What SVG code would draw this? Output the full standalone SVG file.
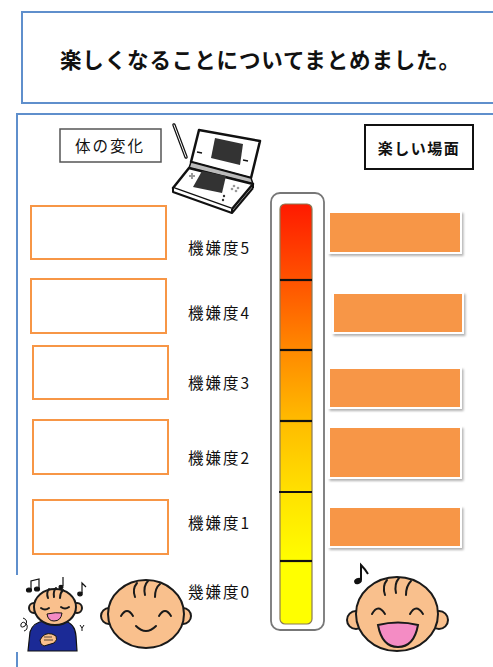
<svg xmlns="http://www.w3.org/2000/svg" width="493" height="667" viewBox="0 0 493 667">
  <defs>
    <style>
      .frame { fill: #ffffff; stroke: #5f8fcc; stroke-width: 2; }
      .jp { font-family: "Noto Sans CJK JP", "Noto Sans", sans-serif; fill: #111; }
      .lvl { font-size: 15.5px; }
      .note-box { fill: #ffffff; stroke: #f79646; stroke-width: 2; }
      .scene { fill: #f79646; stroke: #ffffff; stroke-width: 2; filter: url(#shadow); }
      .skin { fill: #f9c08d; stroke: #1a1a1a; stroke-width: 2; }
      .line { fill: none; stroke: #1a1a1a; stroke-width: 2; stroke-linecap: round; }
      .tick { stroke: #111; stroke-width: 2.2; }
    </style>
    <linearGradient id="heat" gradientUnits="userSpaceOnUse" x1="0" y1="204" x2="0" y2="624">
      <stop offset="0" stop-color="#ff1a00"/>
      <stop offset="0.18" stop-color="#ff5200"/>
      <stop offset="0.35" stop-color="#ff8a00"/>
      <stop offset="0.52" stop-color="#ffbc00"/>
      <stop offset="0.7" stop-color="#ffe400"/>
      <stop offset="0.86" stop-color="#ffff00"/>
      <stop offset="1" stop-color="#ffff00"/>
    </linearGradient>
    <filter id="shadow" x="-10%" y="-20%" width="125%" height="150%">
      <feDropShadow dx="1.5" dy="2" stdDeviation="1.2" flood-color="#000" flood-opacity="0.3"/>
    </filter>
  </defs>

  <rect width="493" height="667" fill="#ffffff"/>

  <!-- heading -->
  <g id="title">
    <rect class="frame" x="22" y="12" width="490" height="91"/>
    <text class="jp" x="260" y="68" font-size="21.5" font-weight="700" text-anchor="middle" textLength="400" lengthAdjust="spacing">楽しくなることについてまとめました。</text>
  </g>

  <!-- main sheet -->
  <g id="sheet">
    <rect class="frame" x="17" y="114" width="500" height="600"/>
  </g>

  <g id="label-body">
    <rect x="60" y="129" width="101" height="33" fill="#fff" stroke="#555" stroke-width="1.5"/>
    <text class="jp" x="110" y="152" font-size="15.5" text-anchor="middle" letter-spacing="2">体の変化</text>
  </g>

  <g id="label-scene">
    <rect x="365" y="125" width="108" height="44" fill="#fff" stroke="#111" stroke-width="2"/>
    <text class="jp" x="419" y="154" font-size="15" font-weight="700" text-anchor="middle" letter-spacing="1.5">楽しい場面</text>
  </g>

  <!-- game console -->
  <g id="console" stroke="#111" stroke-linejoin="round">
    <line x1="174" y1="125" x2="186" y2="157" stroke-width="3.5" stroke-linecap="round"/>
    <line x1="174" y1="125" x2="186" y2="157" stroke="#fff" stroke-width="1" stroke-linecap="round"/>
    <polygon points="199,130 260,141 251,178 191,162" fill="#fff" stroke-width="2.5"/>
    <polygon points="215,138 243,144 240,165 211,158" fill="#333" stroke="none"/>
    <line x1="197" y1="152" x2="202" y2="153" stroke-width="1.5"/>
    <line x1="243" y1="160" x2="248" y2="161" stroke-width="1.5"/>
    <polygon points="191,162 251,178 253,184 189,168" fill="#bbb" stroke-width="1.5"/>
    <polygon points="189,168 253,184 232,209 173,188" fill="#fff" stroke-width="2.5"/>
    <polyline points="173,188 173,192 232,213 232,209" fill="#fff" stroke-width="2"/>
    <line x1="232" y1="213" x2="253" y2="188" stroke-width="2"/>
    <line x1="253" y1="184" x2="253" y2="188" stroke-width="2"/>
    <polygon points="202,171 226,176 222,193 193,187" fill="#333" stroke="none"/>
    <path d="M189,176 h6 M192,173 v6" stroke="#999" stroke-width="2"/>
    <g fill="#999" stroke="none">
      <circle cx="234" cy="186" r="1.3"/>
      <circle cx="238" cy="188" r="1.3"/>
      <circle cx="236" cy="191" r="1.3"/>
      <circle cx="232" cy="189" r="1.3"/>
    </g>
    <circle cx="224" cy="196" r="1.2" fill="#333" stroke="none"/>
    <circle cx="223" cy="200" r="1.2" fill="#333" stroke="none"/>
  </g>

  <!-- body change notes (left column) -->
  <g id="body-notes">
    <rect class="note-box" x="31" y="206" width="135" height="53"/>
    <rect class="note-box" x="31" y="279" width="135" height="54"/>
    <rect class="note-box" x="33" y="346" width="135" height="53"/>
    <rect class="note-box" x="33" y="420" width="135" height="54"/>
    <rect class="note-box" x="33" y="500" width="135" height="54"/>
  </g>

  <!-- mood level labels -->
  <g id="levels" class="jp lvl">
    <text x="188" y="254" textLength="61" lengthAdjust="spacing">機嫌度5</text>
    <text x="188" y="319" textLength="61" lengthAdjust="spacing">機嫌度4</text>
    <text x="188" y="389" textLength="61" lengthAdjust="spacing">機嫌度3</text>
    <text x="188" y="464" textLength="61" lengthAdjust="spacing">機嫌度2</text>
    <text x="188" y="529" textLength="61" lengthAdjust="spacing">機嫌度1</text>
    <text x="188" y="598" textLength="61" lengthAdjust="spacing">幾嫌度0</text>
  </g>

  <!-- mood thermometer -->
  <g id="thermometer">
    <rect x="271" y="193" width="53" height="437" rx="9" fill="#fff" stroke="#777" stroke-width="1.8"/>
    <rect x="280" y="204" width="32" height="420" rx="5" fill="url(#heat)" stroke="#8a7a55" stroke-width="1.2"/>
    <line class="tick" x1="280" y1="280" x2="312" y2="280"/>
    <line class="tick" x1="280" y1="350" x2="312" y2="350"/>
    <line class="tick" x1="280" y1="421" x2="312" y2="421"/>
    <line class="tick" x1="279" y1="492" x2="312" y2="492"/>
    <line class="tick" x1="280" y1="561" x2="312" y2="561"/>
  </g>

  <!-- fun scenes (right column) -->
  <g id="scenes">
    <rect class="scene" x="329" y="212" width="132" height="41"/>
    <rect class="scene" x="333" y="293" width="130" height="40"/>
    <rect class="scene" x="329" y="368" width="132" height="40"/>
    <rect class="scene" x="329" y="427" width="132" height="51"/>
    <rect class="scene" x="329" y="507" width="132" height="40"/>
  </g>

  <!-- singing child -->
  <g id="singer">
    <rect x="10" y="575" width="76" height="77" fill="#fff"/>
    <path d="M28,651 L30,632 Q33,622 45,621 L64,621 Q75,623 76,636 L77,651 Z" fill="#1b2a96" stroke="#111" stroke-width="1.2"/>
    <path d="M40,640 Q44,632 52,634 L56,636 Q58,640 54,643 L44,646 Q40,645 40,640 Z" fill="#f9c08d" stroke="#111" stroke-width="1"/>
    <path d="M44,637 l8,0 M44,640 l9,0" stroke="#111" stroke-width="0.7"/>
    <circle cx="34" cy="608" r="5" class="skin" stroke-width="1.4"/>
    <circle cx="77" cy="608" r="5" class="skin" stroke-width="1.4"/>
    <ellipse cx="55" cy="607" rx="21" ry="18" class="skin" stroke-width="1.5"/>
    <path d="M48,598 q-2,-5 1,-9 M54,597 q-1,-6 2,-9 M60,598 q0,-5 3,-8" class="line" stroke-width="1.2"/>
    <path d="M41,608 q4,3 8,0 M61,607 q4,3 8,0" class="line" stroke-width="1.2"/>
    <path d="M47,614 q9,-2 15,-1 q-1,8 -8,8 q-6,0 -7,-7 Z" fill="#f38ac4" stroke="#111" stroke-width="1"/>
    <g fill="#111" stroke="#111" stroke-width="1.2">
      <ellipse cx="29" cy="590" rx="2.5" ry="2"/>
      <ellipse cx="37" cy="589" rx="2.5" ry="2"/>
      <path d="M31,590 V581 L39,579 V589" fill="none"/>
      <ellipse cx="61" cy="587" rx="2" ry="1.6"/>
      <path d="M63,586 V577" fill="none"/>
      <ellipse cx="80" cy="594" rx="2.2" ry="1.8"/>
      <path d="M82,593 V583 q2,2 4,4" fill="none"/>
      <path d="M23,618 q6,2 2,8 q-5,3 -4,-2 q2,-4 6,1 q1,5 -3,6" fill="none" stroke-width="1"/>
      <path d="M80,625 l2,3 l2,-3 M82,628 v3" fill="none" stroke-width="1"/>
    </g>
  </g>

  <!-- calm smiling face -->
  <g id="face-calm">
    <circle cx="109" cy="616" r="8" class="skin"/>
    <circle cx="183" cy="616" r="8" class="skin"/>
    <ellipse cx="146" cy="614" rx="38" ry="34" class="skin"/>
    <path d="M135,597 q-3,-8 2,-14 M145,595 q-2,-9 3,-14 M155,597 q0,-9 5,-13" class="line"/>
    <path d="M121,616 q6,-10 12,0 M159,616 q6,-10 12,0" class="line"/>
    <path d="M136,626 q10,10 20,0" class="line"/>
  </g>

  <!-- laughing face with note -->
  <g id="face-happy">
    <circle cx="356" cy="620" r="9" class="skin"/>
    <circle cx="439" cy="620" r="9" class="skin"/>
    <ellipse cx="397" cy="614" rx="41" ry="37" class="skin"/>
    <path d="M385,595 q-3,-9 2,-15 M396,593 q-2,-9 3,-15 M406,595 q0,-9 5,-14" class="line"/>
    <path d="M372,614 q6,-11 13,0 M410,614 q6,-11 13,0" class="line"/>
    <path d="M378,625 q20,-5 40,0 q-4,22 -20,22 q-16,0 -20,-22 Z" fill="#f48cc4" stroke="#1a1a1a" stroke-width="2"/>
    <ellipse cx="358" cy="581" rx="4" ry="3" transform="rotate(-25 358 581)" fill="#111"/>
    <path d="M361,580 V565 q4,4 7,9" fill="none" stroke="#111" stroke-width="2"/>
  </g>
</svg>
